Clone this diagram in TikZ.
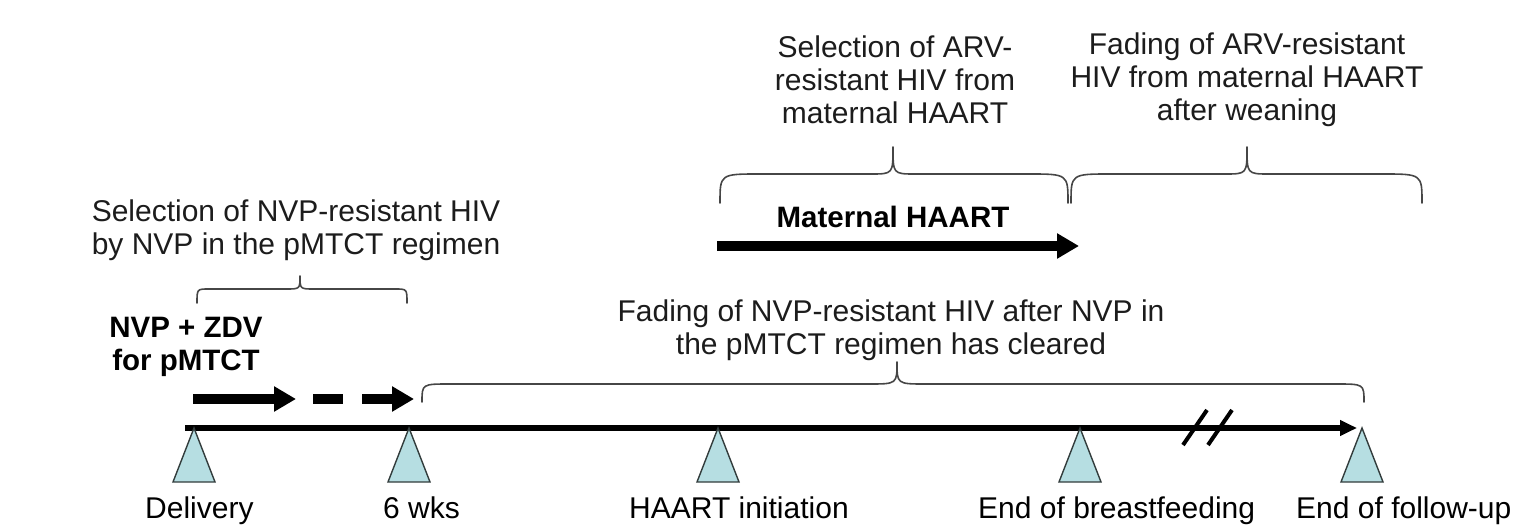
\documentclass[tikz,border=0pt]{standalone}
\usepackage{fontspec}
\setmainfont{Liberation Sans}
\usetikzlibrary{arrows.meta}
\definecolor{trifill}{RGB}{182,222,226}
\definecolor{tridraw}{RGB}{50,60,60}
\definecolor{uptext}{RGB}{28,28,28}
\definecolor{bracecol}{RGB}{70,70,70}
\tikzset{
  uplabel/.style={inner sep=0pt, align=center, text=uptext, font=\fontsize{30}{33}\selectfont},
  boldlabel/.style={inner sep=0pt, align=center, text=black, font=\fontsize{29.5}{33}\selectfont\bfseries},
  botlabel/.style={inner sep=0pt, anchor=base west, text=black, font=\fontsize{30}{33}\selectfont},
  bracestyle/.style={draw=bracecol, line width=1.6pt, line cap=round, line join=round},
  tristyle/.style={fill=trifill, draw=tridraw, line width=1.4pt, line join=miter},
  timeline/.style={line width=5.5pt, -{Triangle[length=17pt,width=15pt]}},
  bigarrow/.style={line width=10pt, -{Triangle[length=22pt,width=24pt]}},
  slash/.style={line width=4pt}
}
\newcommand\mybrace[8]{%
  \draw[bracestyle] (#1,#4) .. controls (#1,#5) .. ({#1+#7},#5) -- ({#2-#8},#5)
    .. controls (#2,#5) .. (#2,#6) .. controls (#2,#5) .. ({#2+#8},#5)
    -- ({#3-#7},#5) .. controls (#3,#5) .. (#3,#4);}
\begin{document}
\begin{tikzpicture}[x=1pt,y=-1pt]
\useasboundingbox (0,0) rectangle (1513,526);
% coordinates on the timeline
\coordinate (t0) at (194,428);
\coordinate (t1) at (409,428);
\coordinate (t2) at (718,428);
\coordinate (t3) at (1080,428);
\coordinate (t4) at (1362,428);
\coordinate (tstart) at (185,428);
\coordinate (tend) at (1357,428);
% timeline
\draw[timeline] (tstart) -- (tend);
% break marks
\coordinate (s1a) at (1183,445); \coordinate (s1b) at (1207,410);
\coordinate (s2a) at (1208,445); \coordinate (s2b) at (1232,410);
\draw[slash] (s1a) -- (s1b);
\draw[slash] (s2a) -- (s2b);
% triangles
\foreach \n in {t0,t1,t2,t3,t4}{
  \draw[tristyle] (\n) -- ++(-21,54) -- ++(42,0) -- cycle;
}
% bottom labels
\node[botlabel] (delivery) at (145,518) {Delivery};
\node[botlabel] (wks) at (383,518) {6 wks};
\node[botlabel] (haartinit) at (629,518) {HAART initiation};
\node[botlabel] (endbf) at (978,518) {End of breastfeeding};
\node[botlabel] (endfu) at (1296,518) {End of follow-up};
% pMTCT arrows
\coordinate (a0) at (193,399);
\coordinate (a1) at (296,399);
\coordinate (a2) at (313,399);
\coordinate (a3) at (414,399);
\draw[bigarrow] (a0) -- (a1);
\draw[bigarrow, dash pattern=on 30pt off 19pt] (a2) -- (a3);
\node[boldlabel] (nvpzdv) at (186,347) {NVP + ZDV\\for pMTCT};
% maternal HAART arrow
\coordinate (m0) at (717,246);
\coordinate (m1) at (1079,246);
\draw[bigarrow] (m0) -- (m1);
\node[boldlabel] (mathaart) at (893,217) {Maternal HAART};
% braces
\mybrace{197}{300}{407}{303}{289}{276}{12}{14}
\mybrace{720}{893}{1068}{203}{174}{147}{40}{22}
\mybrace{1071}{1247}{1422}{203}{174}{147}{40}{22}
\mybrace{422}{897}{1364}{402}{384}{362}{28}{28}
% upper texts
\node[uplabel] (selnvp) at (296,230) {Selection of NVP-resistant HIV\\by NVP in the pMTCT regimen};
\node[uplabel] (selarv) at (895,80) {Selection of ARV-\\resistant HIV from\\maternal HAART};
\node[uplabel] (fadearv) at (1247,80) {Fading of ARV-resistant\\HIV from maternal HAART\\after weaning};
\node[uplabel] (fadenvp) at (891,330) {Fading of NVP-resistant HIV after NVP in\\the pMTCT regimen has cleared};
\end{tikzpicture}
\end{document}
